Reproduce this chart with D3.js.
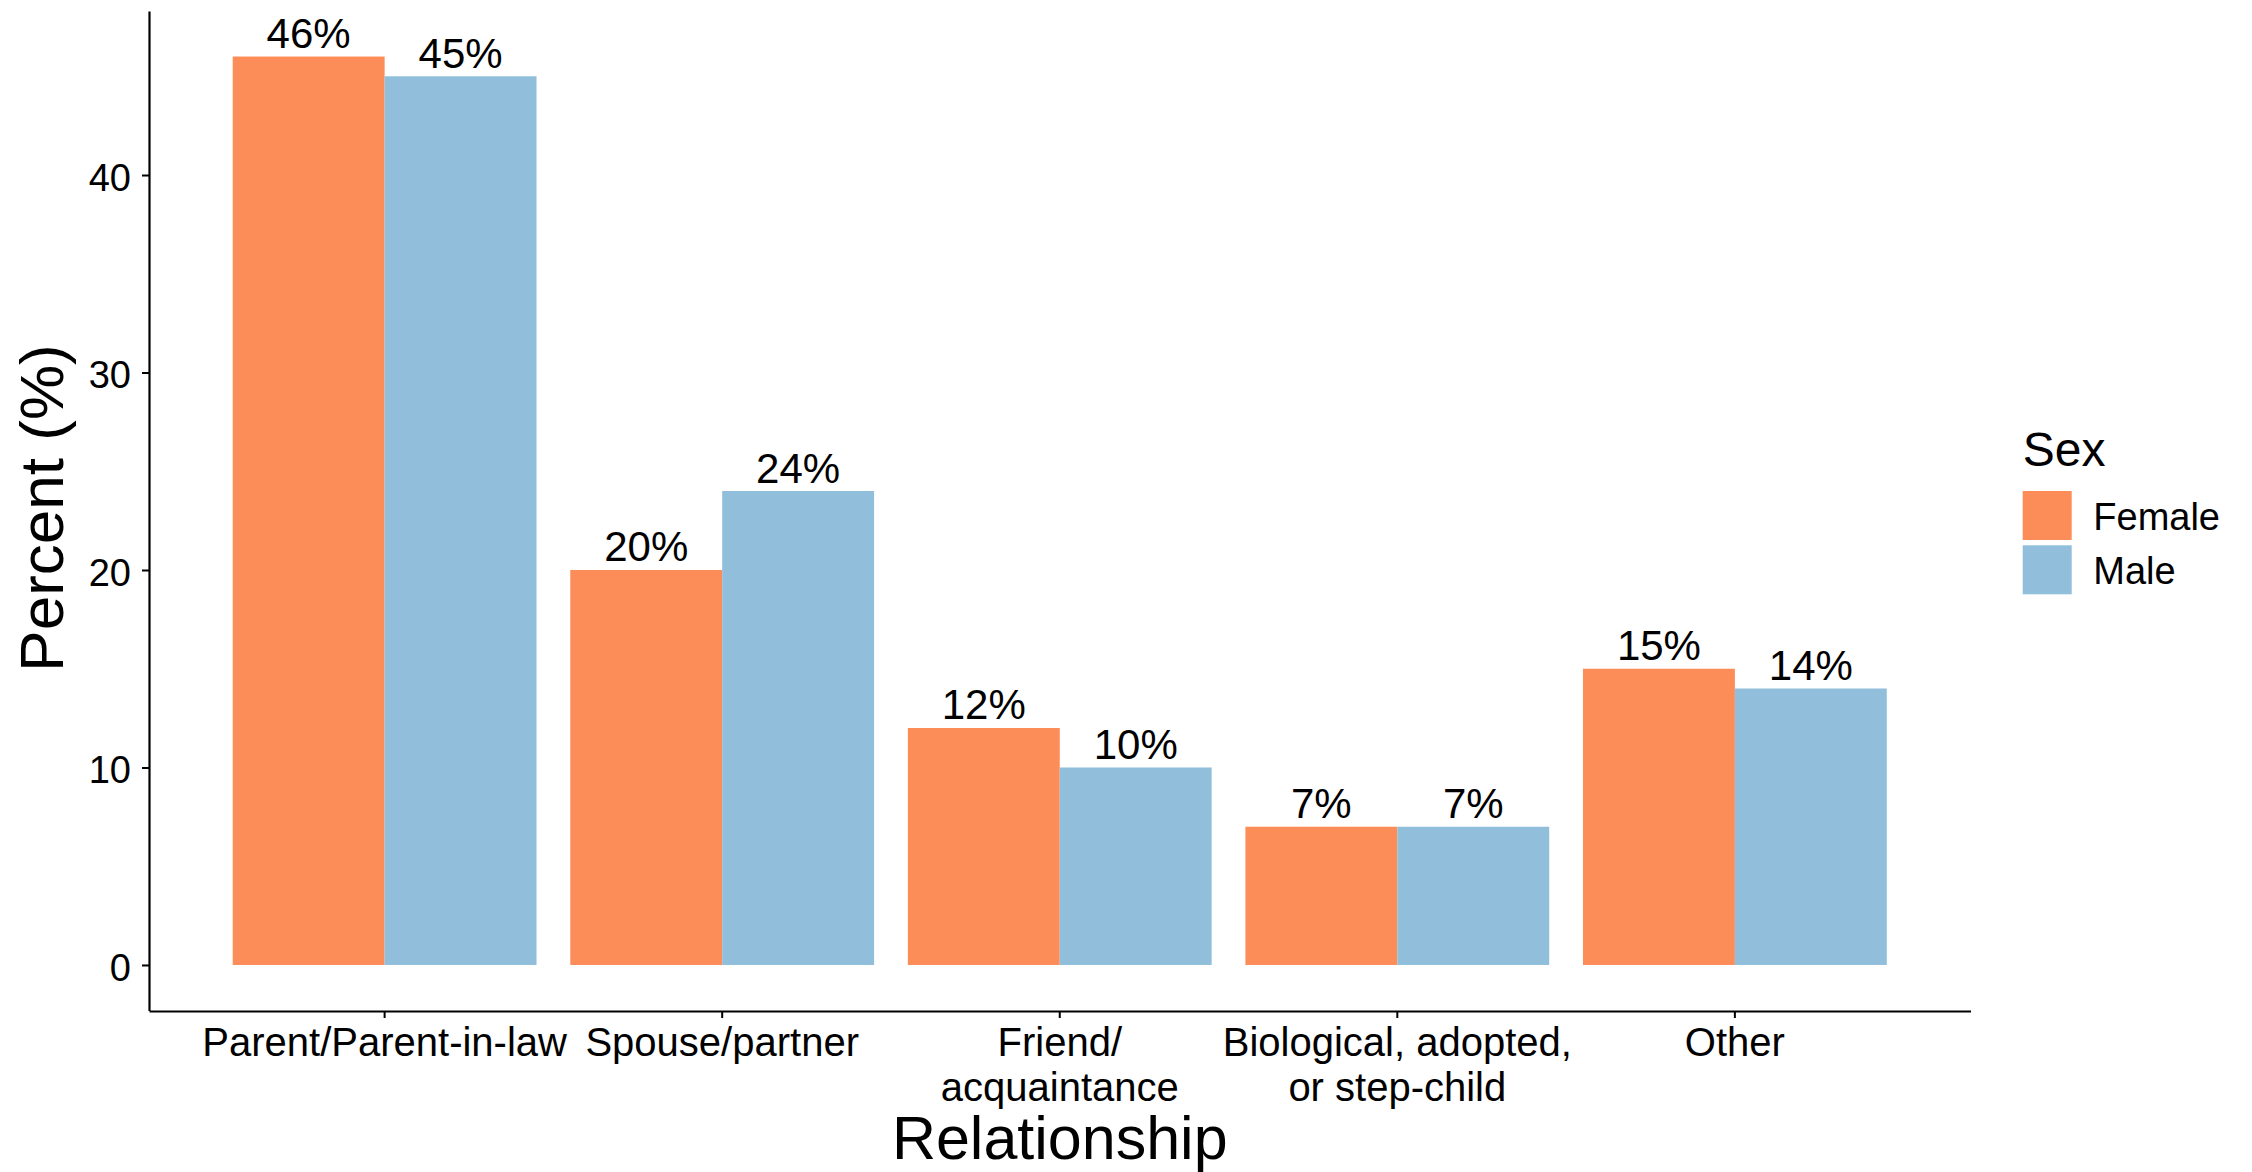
<!DOCTYPE html>
<html>
<head>
<meta charset="utf-8">
<script src="https://cdn.jsdelivr.net/npm/d3@7"></script>
<style>
  html, body { margin: 0; padding: 0; background: #fff; }
  svg { display: block; }
  text { font-family: "Liberation Sans", Arial, Helvetica, sans-serif; fill: #000; }
</style>
</head>
<body>
<svg id="chart" width="2252" height="1172"></svg>
<script>
// ---- data ----
const categories = ["Parent/Parent-in-law", "Spouse/partner", "Friend/\nacquaintance", "Biological, adopted,\nor step-child", "Other"];
const sexes = ["Female", "Male"];
const femaleValues = [46, 20, 12, 7, 15];
const maleValues = [45, 24, 10, 7, 14];
const yTicks = [0, 10, 20, 30, 40];
const colors = ["#FC8D59", "#91BFDB"];
const xTitle = "Relationship";
const yTitle = "Percent (%)";
const legendTitle = "Sex";

// ---- layout ----
const svg = d3.select("#chart");
const panel = { left: 149, right: 1970.5, top: 11.1, bottom: 1010.4 };

const x = d3.scaleBand()
  .domain(categories)
  .range([panel.left, panel.right])
  .paddingInner(0.1)
  .paddingOuter(0.248);

const xSub = d3.scaleBand().domain(sexes).range([0, x.bandwidth()]).padding(0);

const y = d3.scaleLinear().domain([-2.3, 48.3]).range([panel.bottom, panel.top]);

const color = d3.scaleOrdinal().domain(sexes).range(colors);

const rows = categories.map((c, i) => ({ cat: c, vals: [
  { sex: "Female", v: femaleValues[i] },
  { sex: "Male", v: maleValues[i] }
]}));

// bars
const groups = svg.append("g").selectAll("g")
  .data(rows).join("g")
  .attr("transform", d => `translate(${x(d.cat)},0)`);

groups.selectAll("rect")
  .data(d => d.vals).join("rect")
  .attr("x", d => xSub(d.sex))
  .attr("width", xSub.bandwidth())
  .attr("y", d => y(d.v))
  .attr("height", d => y(0) - y(d.v))
  .attr("fill", d => color(d.sex));

groups.selectAll("text")
  .data(d => d.vals).join("text")
  .attr("x", d => xSub(d.sex) + xSub.bandwidth() / 2)
  .attr("y", d => y(d.v) - 8.5)
  .attr("text-anchor", "middle")
  .style("font-size", "42px")
  .text(d => d.v + "%");

// y axis
const yAxis = svg.append("g")
  .attr("transform", `translate(${panel.left},0)`)
  .call(d3.axisLeft(y).tickValues(yTicks).tickSize(7).tickSizeOuter(0).tickPadding(11));
yAxis.select(".domain").attr("stroke", "#000").attr("stroke-width", 2.2);
yAxis.selectAll(".tick line").attr("stroke", "#000").attr("stroke-width", 2);
yAxis.selectAll(".tick text")
  .attr("dy", "0.4em")
  .style("font-size", "38px")
  .style("font-family", "'Liberation Sans', Arial, Helvetica, sans-serif")
  .attr("fill", "#000");

// x axis
const xAxis = svg.append("g")
  .attr("transform", `translate(0,${panel.bottom + 0.6})`)
  .call(d3.axisBottom(x).tickSize(7).tickSizeOuter(0));
xAxis.select(".domain").attr("stroke", "#000").attr("stroke-width", 2.2);
xAxis.selectAll(".tick line").attr("stroke", "#000").attr("stroke-width", 2);
xAxis.selectAll(".tick text").remove();
xAxis.selectAll(".tick").each(function(d) {
  const t = d3.select(this).append("text")
    .attr("text-anchor", "middle")
    .style("font-size", "40px")
    .style("font-family", "'Liberation Sans', Arial, Helvetica, sans-serif")
    .attr("fill", "#000");
  d.split("\n").forEach((line, i) => {
    t.append("tspan").attr("x", 0).attr("y", 45 + i * 45).text(line);
  });
});

// axis titles
svg.append("text")
  .attr("x", (panel.left + panel.right) / 2)
  .attr("y", 1158.5)
  .attr("text-anchor", "middle")
  .style("font-size", "61px")
  .text(xTitle);

svg.append("text")
  .attr("transform", "translate(63,508) rotate(-90)")
  .attr("text-anchor", "middle")
  .style("font-size", "62px")
  .text(yTitle);

// legend
const legend = svg.append("g").attr("transform", "translate(2022.7,0)");
legend.append("text").attr("x", 0).attr("y", 465.7).style("font-size", "48px").text(legendTitle);
const keyY = [491, 545.3];
sexes.forEach((s, i) => {
  legend.append("rect")
    .attr("x", 0).attr("y", keyY[i])
    .attr("width", 49).attr("height", 49)
    .attr("fill", color(s));
  legend.append("text")
    .attr("x", 70.6).attr("y", keyY[i] + 39)
    .style("font-size", "38px")
    .text(s);
});
</script>
</body>
</html>
